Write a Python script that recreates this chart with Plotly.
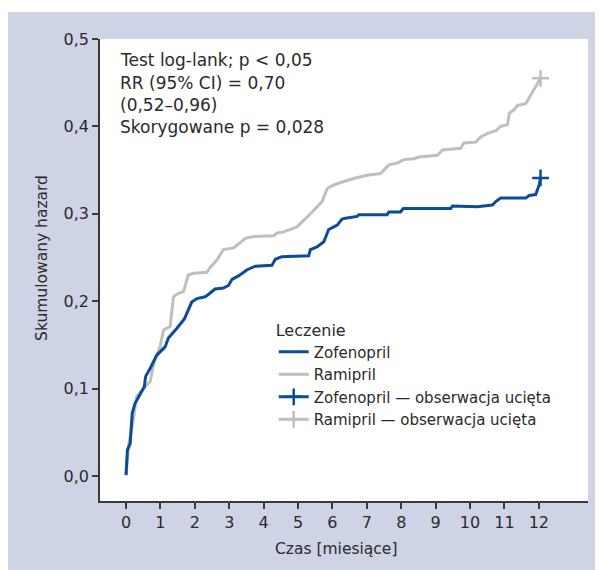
import plotly.graph_objects as go

# ---- data ----
zofenopril_t = [0, 0.04, 0.12, 0.18, 0.26, 0.41, 0.53, 0.57, 0.70, 0.89, 1.14, 1.23, 1.48, 1.70, 1.91,
                2.06, 2.30, 2.40, 2.59, 2.83, 2.98, 3.08, 3.27, 3.52, 3.76, 4.24, 4.34, 4.53, 5.31, 5.36,
                5.55, 5.75, 5.89, 6.04, 6.14, 6.28, 6.38, 6.72, 6.77, 7.59, 7.64, 7.98, 8.06, 9.44, 9.49,
                10.21, 10.65, 10.75, 10.89, 11.62, 11.72, 11.91, 11.96, 12.01, 12.05]
zofenopril_h = [0.001, 0.030, 0.037, 0.072, 0.083, 0.093, 0.102, 0.114, 0.123, 0.138, 0.148, 0.158, 0.169,
                0.180, 0.199, 0.203, 0.205, 0.208, 0.214, 0.215, 0.218, 0.225, 0.229, 0.236, 0.240, 0.241,
                0.248, 0.251, 0.252, 0.259, 0.262, 0.268, 0.282, 0.285, 0.287, 0.294, 0.295, 0.297, 0.299,
                0.299, 0.302, 0.302, 0.306, 0.306, 0.309, 0.308, 0.310, 0.314, 0.318, 0.318, 0.321, 0.322,
                0.327, 0.333, 0.341]

ramipril_t = [0, 0.07, 0.21, 0.31, 0.60, 0.70, 0.83, 0.99, 1.09, 1.28, 1.38, 1.52, 1.67, 1.81, 1.96, 2.35,
              2.45, 2.64, 2.83, 3.13, 3.47, 3.71, 4.29, 4.39, 4.56, 4.97, 5.36, 5.70, 5.85, 6.04, 6.33,
              6.67, 7.01, 7.40, 7.64, 7.88, 8.08, 8.37, 8.51, 9.05, 9.20, 9.73, 9.82, 10.17, 10.31, 10.51,
              10.75, 10.89, 11.09, 11.14, 11.28, 11.38, 11.62, 11.77, 12.05]
ramipril_h = [0.001, 0.034, 0.064, 0.091, 0.104, 0.108, 0.133, 0.148, 0.167, 0.171, 0.205, 0.209, 0.211,
              0.230, 0.232, 0.233, 0.239, 0.247, 0.259, 0.261, 0.272, 0.274, 0.275, 0.278, 0.279, 0.285,
              0.300, 0.314, 0.329, 0.333, 0.337, 0.341, 0.344, 0.346, 0.356, 0.358, 0.362, 0.363, 0.365,
              0.367, 0.373, 0.375, 0.381, 0.382, 0.388, 0.392, 0.395, 0.400, 0.402, 0.415, 0.419, 0.424,
              0.426, 0.436, 0.455]

zof_censored_t = [12.05]
zof_censored_h = [0.341]
ram_censored_t = [12.05]
ram_censored_h = [0.455]

x_tick_vals = [0, 1, 2, 3, 4, 5, 6, 7, 8, 9, 10, 11, 12]
x_tick_text = ["0", "1", "2", "3", "4", "5", "6", "7", "8", "9", "10", "11", "12"]
y_tick_vals = [0.0, 0.1, 0.2, 0.3, 0.4, 0.5]
y_tick_text = ["0,0", "0,1", "0,2", "0,3", "0,4", "0,5"]

stats_lines = ["Test log-lank; p < 0,05", "RR (95% CI) = 0,70", "(0,52–0,96)", "Skorygowane p = 0,028"]

BLUE = "#0b4c98"
GRAY = "#bfbfbf"
LAV = "#cfd3e6"
AX = "#3a3a3a"
TXT = "#2a2a2a"
FONT = "DejaVu Sans"

fig = go.Figure()
fig.add_trace(go.Scatter(x=ramipril_t, y=ramipril_h, mode="lines", name="Ramipril",
                         line=dict(color=GRAY, width=3), legendrank=2))
fig.add_trace(go.Scatter(x=zofenopril_t, y=zofenopril_h, mode="lines", name="Zofenopril",
                         line=dict(color=BLUE, width=3), legendrank=1))
fig.add_trace(go.Scatter(x=zof_censored_t, y=zof_censored_h, mode="lines+markers",
                         name="Zofenopril — obserwacja ucięta",
                         line=dict(color=BLUE, width=3),
                         marker=dict(symbol="cross-thin", size=12, line=dict(color=BLUE, width=2.5)),
                         legendrank=3))
fig.add_trace(go.Scatter(x=ram_censored_t, y=ram_censored_h, mode="lines+markers",
                         name="Ramipril — obserwacja ucięta",
                         line=dict(color=GRAY, width=3),
                         marker=dict(symbol="cross-thin", size=12, line=dict(color=GRAY, width=2.5)),
                         legendrank=4))

annotations = []
ys = [0.9545, 0.9048, 0.8571, 0.8095]
for txt, yy in zip(stats_lines, ys):
    annotations.append(dict(text=txt, xref="paper", yref="paper", x=0.037, y=yy,
                            xanchor="left", yanchor="middle", showarrow=False,
                            font=dict(family=FONT, size=17, color=TXT)))
annotations.append(dict(text="Skumulowany hazard", xref="paper", yref="paper", x=-0.119, y=0.526,
                        textangle=-90, xanchor="center", yanchor="middle", showarrow=False,
                        font=dict(family=FONT, size=15.5, color=TXT)))
annotations.append(dict(text="Czas [miesiące]", xref="paper", yref="paper", x=0.484, y=-0.1039,
                        xanchor="center", yanchor="middle", showarrow=False,
                        font=dict(family=FONT, size=15.5, color=TXT)))

fig.update_layout(
    width=595, height=562,
    margin=dict(l=92, r=15, t=31, b=69),
    paper_bgcolor="white",
    plot_bgcolor="white",
    font=dict(family=FONT, size=16, color=TXT),
    showlegend=True,
    legend=dict(x=0.356, y=0.403, xanchor="left", yanchor="top",
                bgcolor="rgba(0,0,0,0)", font=dict(family=FONT, size=15, color=TXT),
                title=dict(text="Leczenie", font=dict(family=FONT, size=16, color=TXT)),
                tracegroupgap=0, itemwidth=30),
    shapes=[
        dict(type="rect", xref="paper", yref="paper", x0=-0.1885, x1=1.05, y0=-0.2, y1=1.0584,
             fillcolor=LAV, line=dict(width=0), layer="below"),
        dict(type="rect", xref="paper", yref="paper", x0=0, x1=1, y0=0, y1=1,
             fillcolor="white", line=dict(width=0), layer="below"),
    ],
    annotations=annotations,
)
fig.update_xaxes(range=[-0.757, 13.43], tickvals=x_tick_vals, ticktext=x_tick_text,
                 showgrid=False, zeroline=False, showline=True, linecolor=AX, linewidth=1.5,
                 ticks="outside", ticklen=6, tickwidth=1.5, tickcolor=AX,
                 tickfont=dict(family=FONT, size=16, color=TXT))
fig.update_yaxes(range=[-0.0286, 0.5], tickvals=y_tick_vals, ticktext=y_tick_text,
                 showgrid=False, zeroline=False, showline=True, linecolor=AX, linewidth=1.5,
                 ticks="outside", ticklen=6, tickwidth=1.5, tickcolor=AX,
                 tickfont=dict(family=FONT, size=16, color=TXT))

fig.write_html("out.html")
